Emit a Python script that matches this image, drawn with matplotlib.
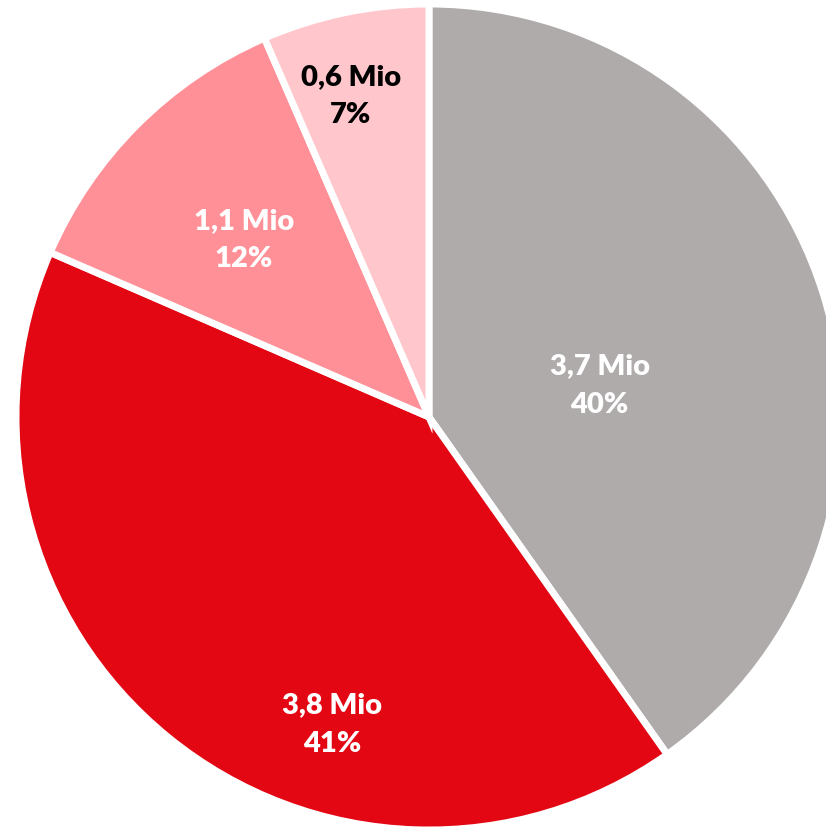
import numpy as np
import matplotlib
matplotlib.use("Agg")
import matplotlib.pyplot as plt

values = [3.7, 3.8, 1.1, 0.6]
amounts = ["3,7 Mio", "3,8 Mio", "1,1 Mio", "0,6 Mio"]
percents = ["40%", "41%", "12%", "7%"]
colors = ["#AFABAB", "#E30613", "#FF9097", "#FFC7CC"]
text_colors = ["white", "white", "white", "black"]
# label placement (angle in degrees, fraction of radius)
label_angle = [10.4, 252.5, 136.3, 103.7]
label_r = [0.42, 0.78, 0.62, 0.80]

plt.rcParams['font.family'] = ['Lato', 'DejaVu Sans']

fig = plt.figure(figsize=(8.26, 8.27), dpi=100)
R = 413
ax = fig.add_axes([(429-R)/826, (410-R)/827, 2*R/826, 2*R/827])
ax.pie(values, colors=colors, startangle=90, counterclock=False, radius=1,
       wedgeprops=dict(edgecolor='white', linewidth=5))
ax.set_xlim(-1, 1)
ax.set_ylim(-1, 1)
ax.set_aspect('equal')
ax.axis('off')

for i in range(4):
    a = np.deg2rad(label_angle[i])
    x = label_r[i]*np.cos(a)
    y = label_r[i]*np.sin(a)
    ax.text(x, y, amounts[i] + "\n" + percents[i], ha='center', va='center',
            fontsize=21, fontweight='heavy', color=text_colors[i], linespacing=1.6)

plt.savefig("out.png", dpi=100)
plt.close()
